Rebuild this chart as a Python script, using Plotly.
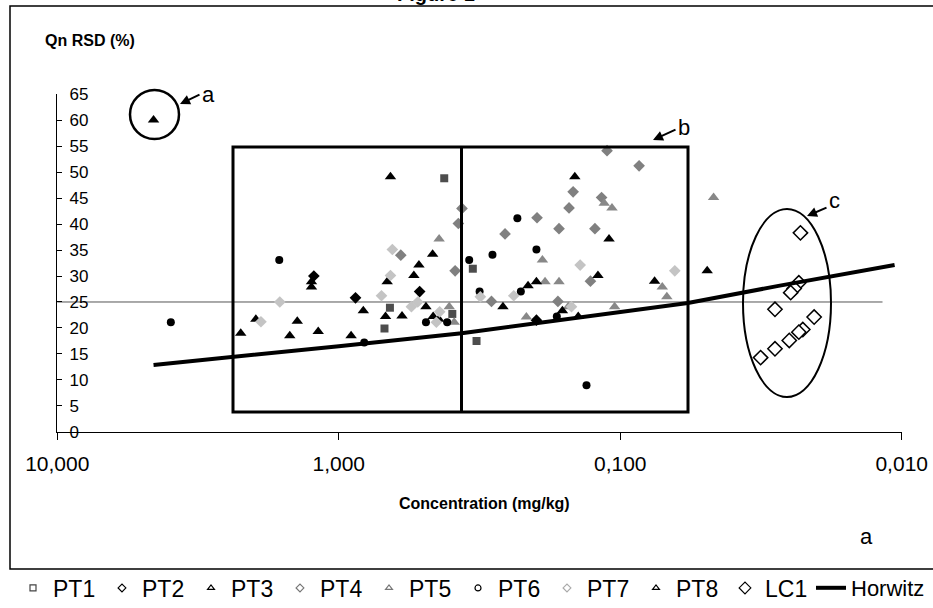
import plotly.graph_objects as go

# ---------------- data (concentration mg/kg, Qn RSD %) ----------------
pt1_x = [0.658, 0.688, 0.395, 0.324, 0.334, 0.422]
pt1_y = [23.9, 19.9, 22.7, 17.5, 31.4, 48.8]

pt2_x = [1.226, 0.872, 0.516, 0.1985]
pt2_y = [30.0, 25.8, 27.0, 21.5]

pt3_x = [4.55, 2.23, 1.97, 1.25, 1.25, 1.404, 1.493, 1.183, 0.904, 0.818,
         0.673, 0.682, 0.596, 0.541, 0.655, 0.464, 0.519, 0.490, 0.462, 0.441]
pt3_y = [60.0, 19.0, 21.7, 28.9, 27.9, 21.3, 18.5, 19.3, 18.5, 23.3,
         28.9, 22.2, 22.3, 30.1, 49.1, 34.2, 32.1, 24.1, 22.2, 21.7]

pt4_x = [0.365, 0.376, 0.602, 0.386, 0.1114, 0.0857, 0.147, 0.1165, 0.152,
         0.1975, 0.2566, 0.165, 0.123, 0.1276, 0.2867, 0.1665]
pt4_y = [43.0, 40.1, 34.0, 31.0, 54.1, 51.2, 46.2, 45.1, 43.1,
         41.2, 38.1, 39.1, 39.1, 29.0, 25.1, 25.1]

pt5_x = [0.44, 0.405, 0.389, 0.114, 0.107, 0.0466, 0.189, 0.0709, 0.0683,
         0.185, 0.165, 0.153, 0.1047, 0.2155]
pt5_y = [37.1, 24.1, 21.1, 44.0, 43.1, 45.1, 33.1, 27.9, 26.0,
         28.9, 28.9, 24.1, 24.1, 22.1]

pt6_x = [3.95, 1.627, 0.812, 0.490, 0.412, 0.316, 0.344, 0.232, 0.1985,
         0.2844, 0.2255, 0.168, 0.1318]
pt6_y = [21.1, 33.1, 17.2, 21.1, 21.1, 27.0, 33.1, 41.1, 35.1,
         34.1, 27.0, 22.2, 9.0]

pt7_x = [1.89, 1.62, 0.705, 0.655, 0.645, 0.552, 0.524, 0.438, 0.45,
         0.1388, 0.064, 0.314, 0.239, 0.149]
pt7_y = [21.2, 25.0, 26.2, 30.1, 35.1, 24.1, 25.0, 23.1, 21.1,
         32.1, 31.0, 26.0, 26.2, 24.1]

pt8_x = [0.145, 0.1096, 0.12, 0.0755, 0.0491, 0.261, 0.1605, 0.141, 0.2126, 0.1985]
pt8_y = [49.1, 37.1, 30.1, 29.0, 31.0, 24.1, 23.3, 22.2, 28.1, 28.9]

lc1_x = [0.0229, 0.0232, 0.0241, 0.0248, 0.0282, 0.02047, 0.02246, 0.0232,
         0.02509, 0.0282, 0.03172]
lc1_y = [38.3, 28.7, 27.6, 26.8, 23.6, 22.1, 19.7, 19.2, 17.6, 16.0, 14.3]

horwitz_x = [4.55, 2.37, 1.0, 0.366, 0.166, 0.0575, 0.0274, 0.0106]
horwitz_y = [12.9, 14.4, 16.5, 19.0, 21.5, 24.8, 28.1, 32.1]

ref25_x = [10, 0.0117]
ref25_y = [25, 25]

x_tickvals = [10, 1, 0.1, 0.01]
x_ticktext = ["10,000", "1,000", "0,100", "0,010"]
y_tickvals = [0, 5, 10, 15, 20, 25, 30, 35, 40, 45, 50, 55, 60, 65]

# ---------------- layout geometry (pixels) ----------------
W, H = 933, 608
L, R, T, B = 57, 902, 94, 432
FONT = "Arial, 'Liberation Sans', sans-serif"


def px(x):
    return (x - L) / (R - L)


def py(y):
    return (B - y) / (B - T)


fig = go.Figure()

# reference 25 % line
fig.add_trace(go.Scatter(x=ref25_x, y=ref25_y, mode="lines",
                         line=dict(color="#555555", width=1),
                         showlegend=False, hoverinfo="skip"))

series = [
    ("PT1", pt1_x, pt1_y, "square", "#4d4d4d", 8),
    ("PT2", pt2_x, pt2_y, "diamond", "#000000", 9),
    ("PT3", pt3_x, pt3_y, "triangle-up", "#000000", 10),
    ("PT4", pt4_x, pt4_y, "diamond", "#808080", 9),
    ("PT5", pt5_x, pt5_y, "triangle-up", "#888888", 10),
    ("PT6", pt6_x, pt6_y, "circle", "#000000", 8),
    ("PT7", pt7_x, pt7_y, "diamond", "#c4c4c4", 9),
    ("PT8", pt8_x, pt8_y, "triangle-up", "#000000", 10),
]
for name, xs, ys, sym, col, size in series:
    fig.add_trace(go.Scatter(x=xs, y=ys, mode="markers", name=name,
                             marker=dict(symbol=sym, color=col, size=size,
                                         line=dict(width=0)),
                             showlegend=False))

fig.add_trace(go.Scatter(x=lc1_x, y=lc1_y, mode="markers", name="LC1",
                         marker=dict(symbol="diamond", color="#ffffff", size=11,
                                     line=dict(color="#000000", width=1.5)),
                         showlegend=False))

fig.add_trace(go.Scatter(x=horwitz_x, y=horwitz_y, mode="lines", name="Horwitz",
                         line=dict(color="#000000", width=4),
                         showlegend=False))

# legend entries (small open symbols as in the original)
legend_styles = [
    ("PT1", "square-open", "#444444", 6),
    ("PT2", "diamond-open", "#000000", 6),
    ("PT3", "triangle-up-open", "#000000", 6),
    ("PT4", "diamond-open", "#777777", 6),
    ("PT5", "triangle-up-open", "#777777", 6),
    ("PT6", "circle-open", "#000000", 6),
    ("PT7", "diamond-open", "#aaaaaa", 6),
    ("PT8", "triangle-up-open", "#000000", 6),
    ("LC1", "diamond-open", "#000000", 9),
]
for name, sym, col, size in legend_styles:
    fig.add_trace(go.Scatter(x=[None], y=[None], mode="markers", name=name,
                             marker=dict(symbol=sym, color=col, size=size,
                                         line=dict(width=1.2)),
                             legend="legend"))
fig.add_trace(go.Scatter(x=[None], y=[None], mode="lines", name="Horwitz",
                         line=dict(color="#000000", width=4),
                         legend="legend2"))

shapes = []
# outer frame
shapes.append(dict(type="rect", xref="paper", yref="paper",
                   x0=px(10), x1=px(945), y0=py(6), y1=py(569),
                   line=dict(color="#000000", width=1.5)))
# circle a
shapes.append(dict(type="circle", xref="paper", yref="paper",
                   x0=px(130), x1=px(179), y0=py(90), y1=py(139),
                   line=dict(color="#000000", width=2.5)))
# box b
shapes.append(dict(type="rect", xref="paper", yref="paper",
                   x0=px(233), x1=px(688), y0=py(147), y1=py(412),
                   line=dict(color="#000000", width=3)))
shapes.append(dict(type="line", xref="paper", yref="paper",
                   x0=px(461.5), x1=px(461.5), y0=py(147), y1=py(412),
                   line=dict(color="#000000", width=3)))
# ellipse c
shapes.append(dict(type="circle", xref="paper", yref="paper",
                   x0=px(743), x1=px(831), y0=py(209), y1=py(397),
                   line=dict(color="#000000", width=2)))

annotations = []


def label(text, x, y, size=22, bold=False, xanchor="center", yanchor="middle"):
    t = "<b>%s</b>" % text if bold else text
    annotations.append(dict(text=t, xref="paper", yref="paper", x=px(x), y=py(y),
                            xanchor=xanchor, yanchor=yanchor, showarrow=False,
                            font=dict(family=FONT, size=size, color="#000000")))


def arrow(x_tail, y_tail, x_head, y_head):
    annotations.append(dict(text="", xref="paper", yref="paper",
                            x=px(x_head), y=py(y_head),
                            ax=x_tail - x_head, ay=y_tail - y_head,
                            showarrow=True, arrowhead=2, arrowsize=1,
                            arrowwidth=2, arrowcolor="#000000"))


label("Figure 1", 436, 7, size=20, bold=True, yanchor="bottom")
label("Qn RSD (%)", 43, 40, size=16, bold=True, xanchor="left")
label("Concentration (mg/kg)", 484, 503, size=16, bold=True)
label("a", 208, 94)
label("b", 684, 127)
label("c", 834, 200)
label("a", 866, 536)
arrow(201, 94, 180, 104)
arrow(677, 129, 653, 140)
arrow(828, 207, 807, 216)

legend_font = dict(family=FONT, size=23, color="#000000")

fig.update_layout(
    width=W, height=H,
    margin=dict(l=L, r=W - R, t=T, b=H - B, autoexpand=False),
    paper_bgcolor="#ffffff", plot_bgcolor="#ffffff",
    font=dict(family=FONT, color="#000000"),
    showlegend=True,
    legend=dict(orientation="h", x=px(13), xanchor="left",
                y=py(588), yanchor="middle",
                entrywidth=44, entrywidthmode="pixels",
                font=legend_font, bgcolor="rgba(0,0,0,0)", tracegroupgap=0),
    legend2=dict(orientation="h", x=px(811), xanchor="left",
                 y=py(588), yanchor="middle",
                 font=dict(family=FONT, size=22, color="#000000"),
                 bgcolor="rgba(0,0,0,0)"),
    shapes=shapes,
    annotations=annotations,
    xaxis=dict(type="log", range=[1.001, -2.001], tickvals=x_tickvals,
               ticktext=x_ticktext,
               ticks="outside", ticklen=7, tickcolor="#000000", tickwidth=1,
               showline=True, linecolor="#000000", linewidth=1,
               showgrid=False, zeroline=False,
               tickfont=dict(family=FONT, size=21, color="#000000"),
               ticklabelstandoff=6),
    yaxis=dict(range=[-0.01, 65.01], tickvals=y_tickvals,
               ticks="inside", ticklen=5, tickcolor="#000000", tickwidth=1,
               ticklabelposition="inside", ticklabeloverflow="allow",
               ticklabelstandoff=8,
               showline=True, linecolor="#000000", linewidth=1,
               showgrid=False, zeroline=False,
               tickfont=dict(family=FONT, size=17, color="#000000")),
)

fig.write_html("out.html",
               config={"displayModeBar": False},
               post_script="document.body.style.margin='0px';"
                           "document.body.style.padding='0px';")
